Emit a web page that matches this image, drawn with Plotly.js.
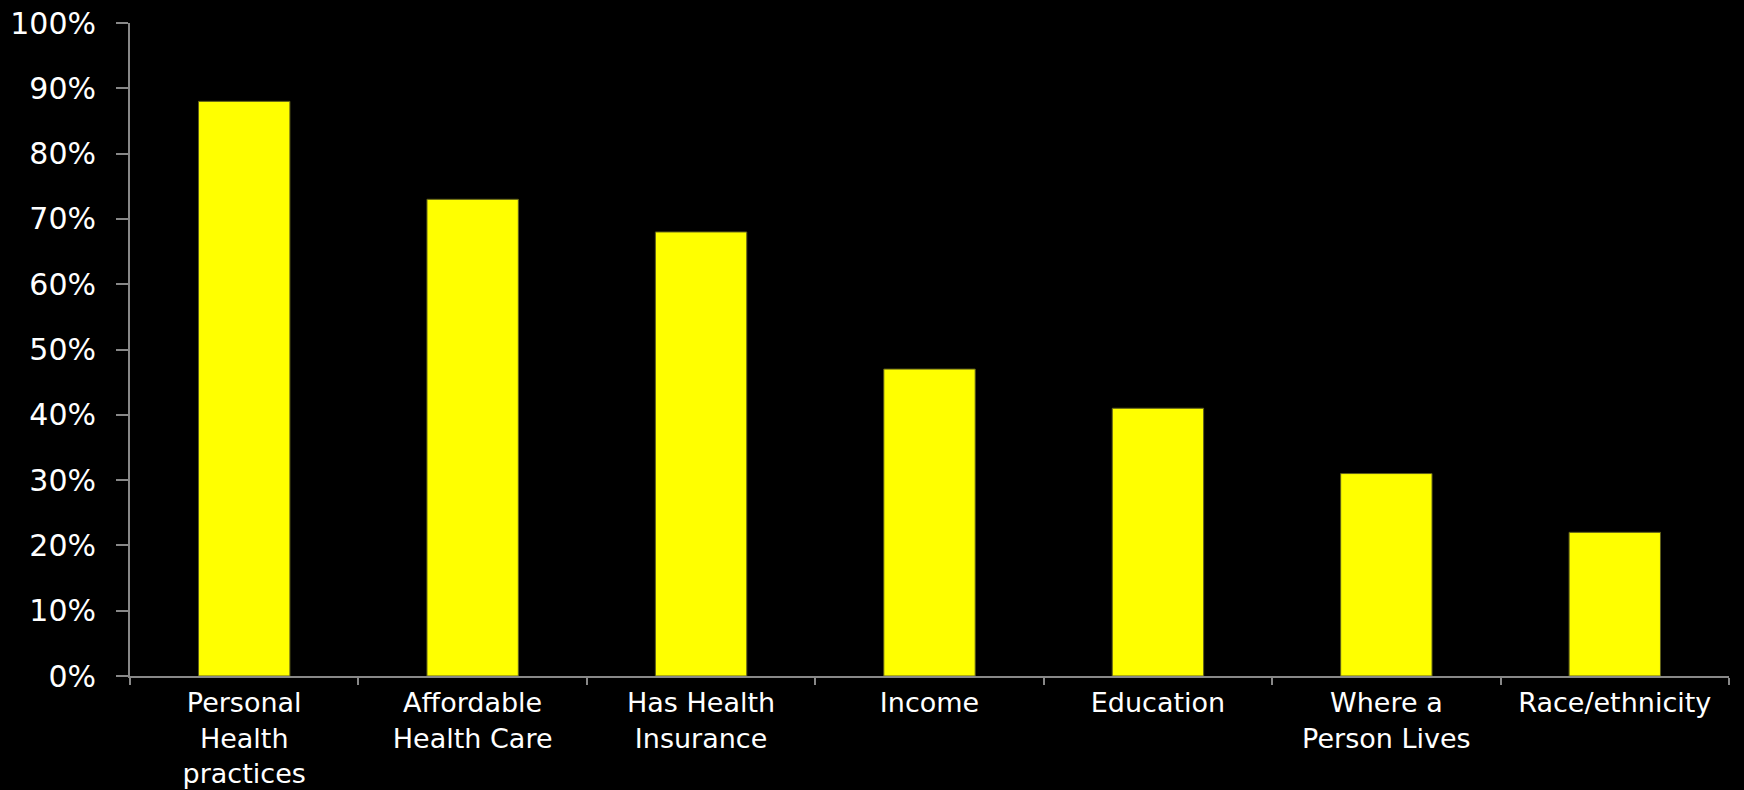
<!DOCTYPE html>
<html>
<head>
<meta charset="utf-8">
<script src="https://cdn.plot.ly/plotly-3.0.1.min.js"></script>
<style>
html, body { margin: 0; padding: 0; background: #000; }
#chart { width: 1744px; height: 790px; }
</style>
</head>
<body>
<div id="chart"></div>
<script>
const categories = [
  "Personal<br>Health<br>practices",
  "Affordable<br>Health Care",
  "Has Health<br>Insurance",
  "Income",
  "Education",
  "Where a<br>Person Lives",
  "Race/ethnicity"
];
const values = [0.88, 0.73, 0.68, 0.47, 0.41, 0.31, 0.22];

const trace = {
  type: "bar",
  x: categories,
  y: values,
  marker: { color: "#FFFF00", line: { color: "#5e5e1a", width: 1 } },
  hoverinfo: "skip"
};

const layout = {
  width: 1744,
  height: 790,
  paper_bgcolor: "#000000",
  plot_bgcolor: "#000000",
  margin: { l: 130, r: 15, t: 23, b: 114 },
  bargap: 0.6,
  showlegend: false,
  font: { family: "DejaVu Sans, sans-serif", color: "#FFFFFF" },
  xaxis: {
    type: "category",
    range: [-0.5, 6.5],
    showline: true,
    linecolor: "#888888",
    linewidth: 2,
    ticks: "outside",
    tickson: "boundaries",
    ticklen: 7,
    tickwidth: 2,
    tickcolor: "#888888",
    showgrid: false,
    zeroline: false,
    ticklabelstandoff: 2,
    tickfont: { family: "DejaVu Sans, sans-serif", size: 27, color: "#FFFFFF" }
  },
  yaxis: {
    range: [0, 1],
    dtick: 0.1,
    tick0: 0,
    tickformat: ".0%",
    showline: true,
    linecolor: "#888888",
    linewidth: 2,
    ticks: "outside",
    ticklen: 12,
    tickwidth: 2,
    tickcolor: "#888888",
    showgrid: false,
    zeroline: false,
    ticklabelstandoff: 14,
    tickfont: { family: "DejaVu Sans, sans-serif", size: 30, color: "#FFFFFF" }
  }
};

Plotly.newPlot("chart", [trace], layout, { displayModeBar: false, staticPlot: true });
</script>
</body>
</html>
